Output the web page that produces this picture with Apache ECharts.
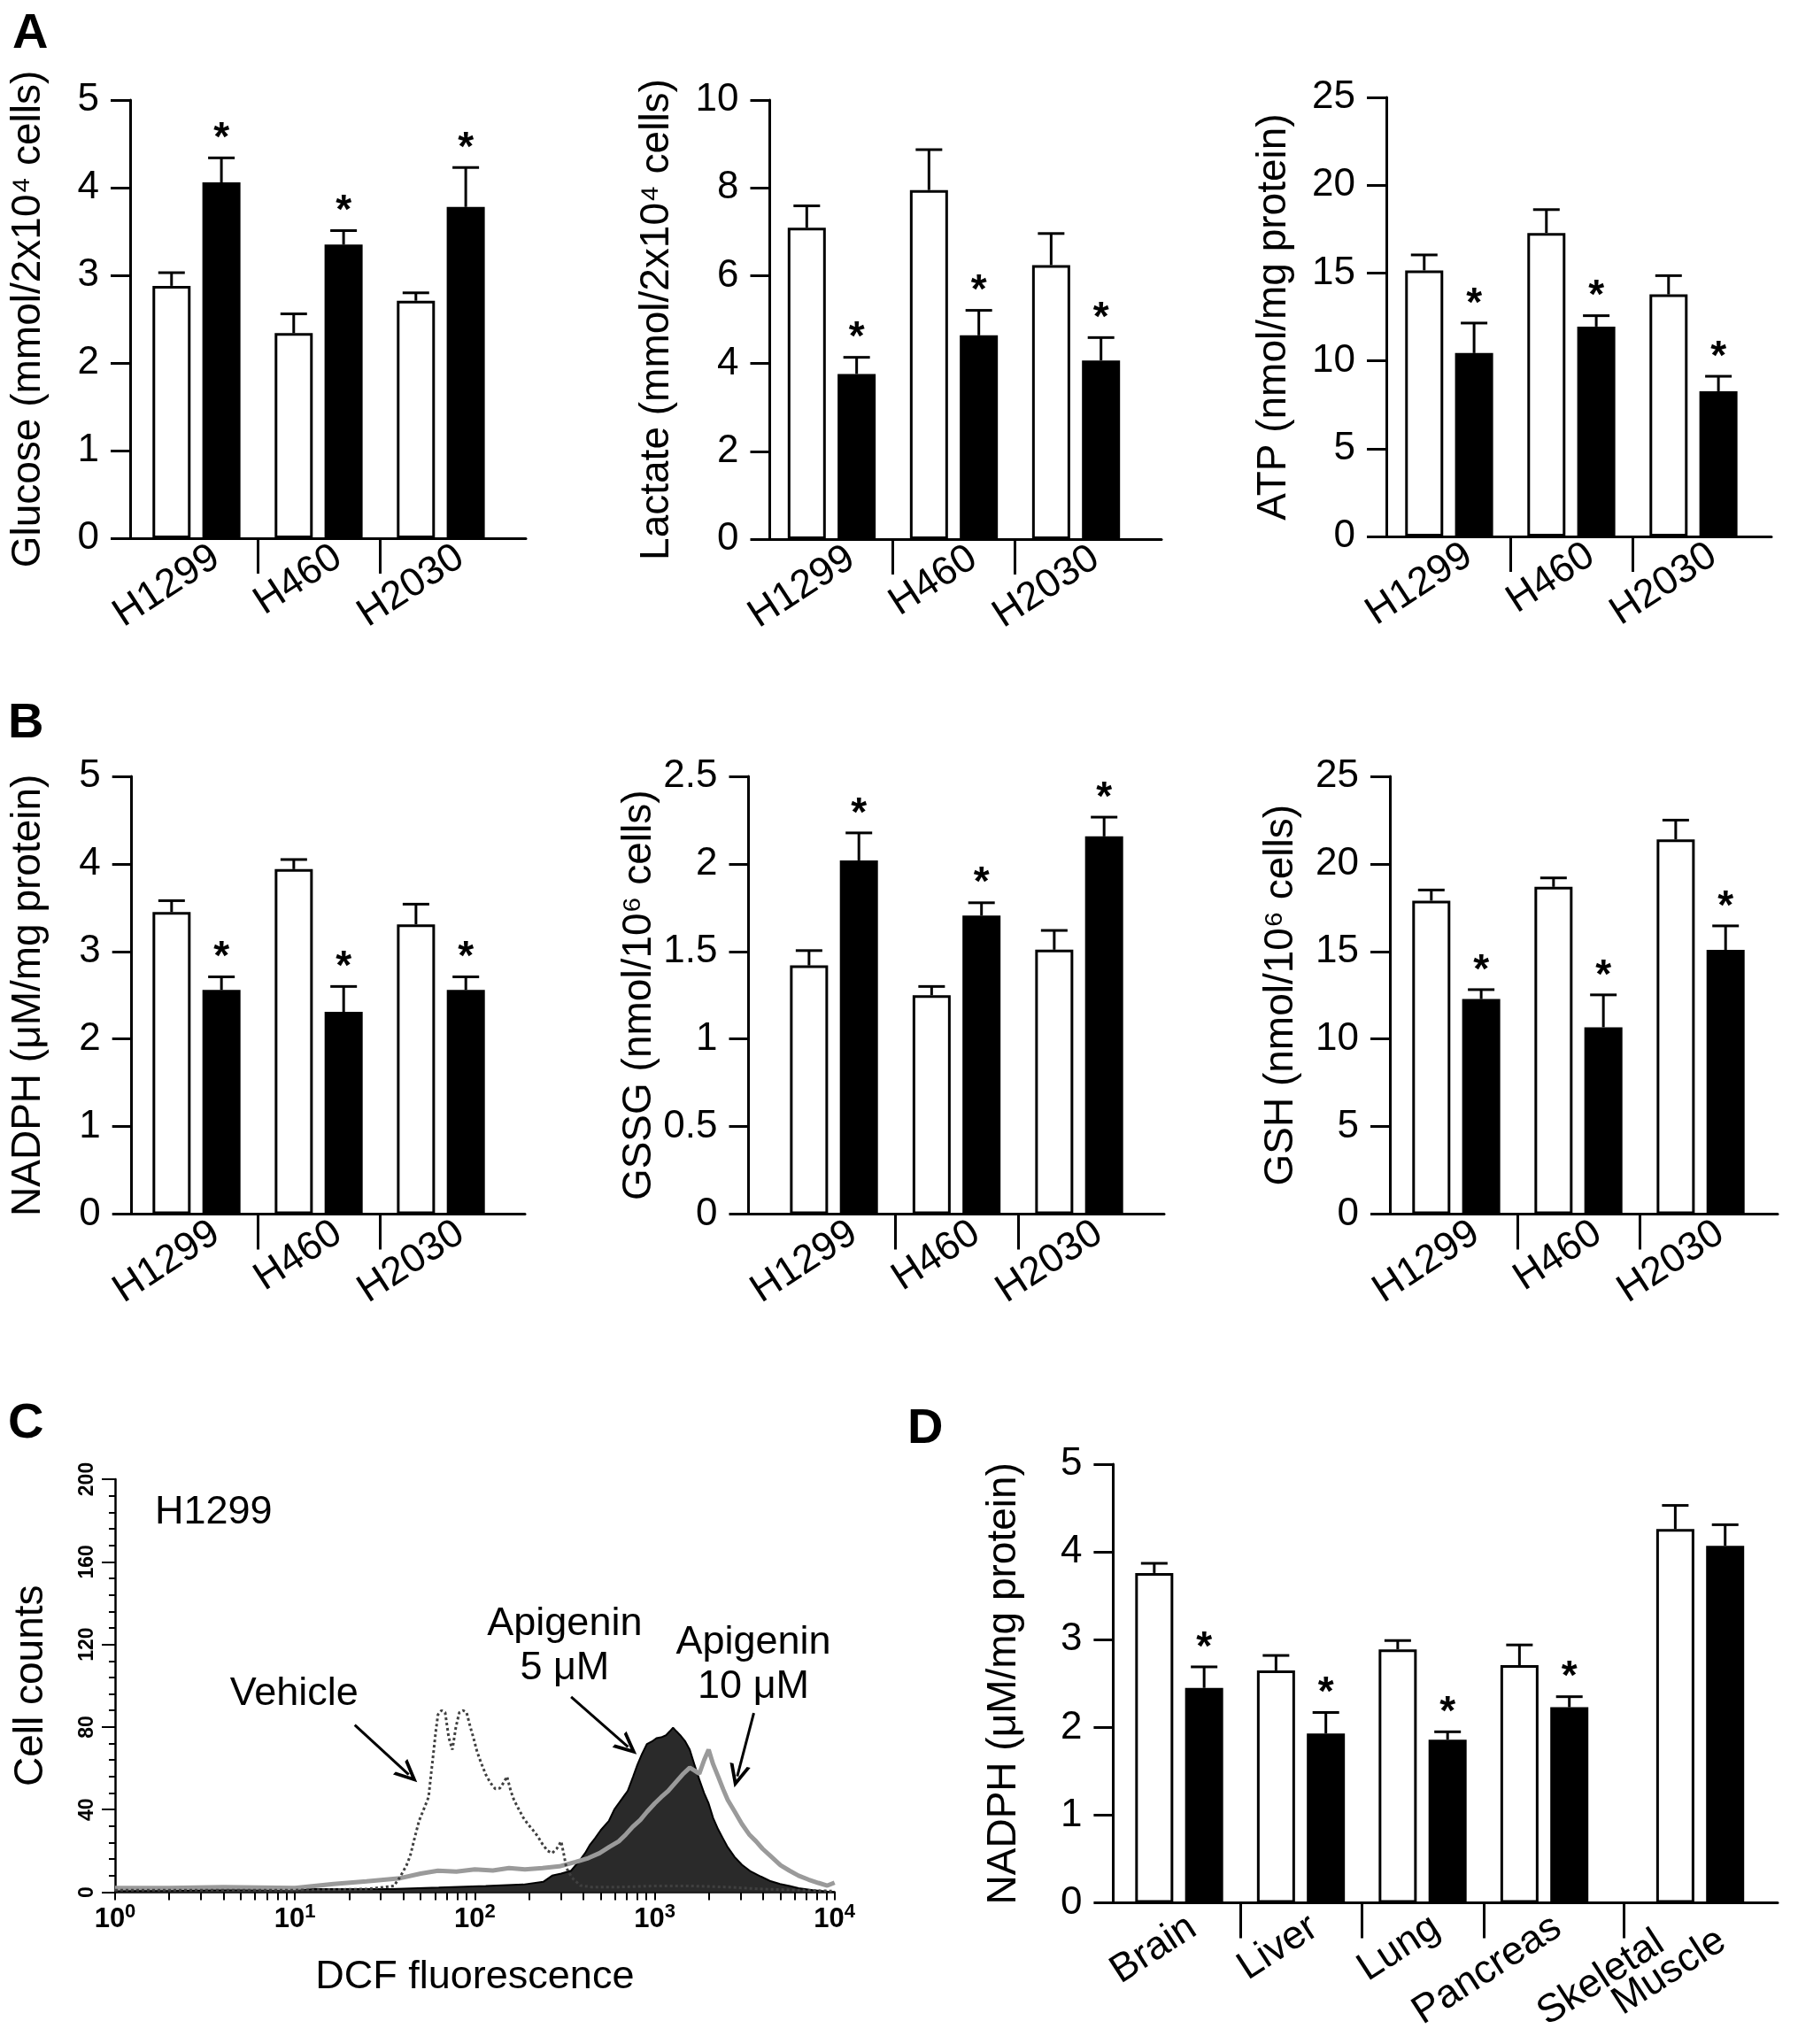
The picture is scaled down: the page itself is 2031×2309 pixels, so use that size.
<!DOCTYPE html>
<html>
<head>
<meta charset="utf-8">
<script src="https://cdn.jsdelivr.net/npm/echarts@6/dist/echarts.min.js"></script>
<style>
  html, body { margin: 0; padding: 0; background: #fff; }
  #chart { width: 2031px; height: 2309px; }
</style>
</head>
<body>
<div id="chart"></div>
<script>
const FONT = 'Liberation Sans, Arial, Helvetica, sans-serif';

// categories
const cellLines = ['H1299', 'H460', 'H2030'];
const cellPos = [0, 1, 2];
const cellSig = [1, 1, 1];
const tissues = ['Brain', 'Liver', 'Lung', 'Pancreas', 'Skeletal Muscle'];
const tissuePos = [0, 1, 2, 3, 4.28];   // skeletal muscle sits a bit further right
const tissueSig = [1, 1, 1, 1, 0];

// A - glucose uptake, lactate, ATP (vehicle = white, apigenin = black)
const glucoseVeh = [2.88, 2.34, 2.71];
const glucoseVehErr = [0.15, 0.22, 0.09];
const glucoseApi = [4.06, 3.35, 3.78];
const glucoseApiErr = [0.28, 0.16, 0.45];

const lactateVeh = [7.09, 7.95, 6.24];
const lactateVehErr = [0.50, 0.92, 0.72];
const lactateApi = [3.76, 4.64, 4.07];
const lactateApiErr = [0.38, 0.57, 0.52];

const atpVeh = [15.15, 17.28, 13.78];
const atpVehErr = [0.88, 1.33, 1.07];
const atpApi = [10.44, 11.95, 8.27];
const atpApiErr = [1.71, 0.62, 0.85];

// B - NADPH, GSSG, GSH
const nadphVeh = [3.45, 3.94, 3.31];
const nadphVehErr = [0.13, 0.11, 0.23];
const nadphApi = [2.56, 2.31, 2.56];
const nadphApiErr = [0.15, 0.29, 0.15];

const gssgVeh = [1.42, 1.25, 1.51];
const gssgVehErr = [0.085, 0.05, 0.11];
const gssgApi = [2.02, 1.705, 2.157];
const gssgApiErr = [0.157, 0.073, 0.11];

const gshVeh = [17.90, 18.69, 21.40];
const gshVehErr = [0.61, 0.51, 1.10];
const gshApi = [12.28, 10.67, 15.09];
const gshApiErr = [0.54, 1.85, 1.37];

// D - NADPH in tissues
const tissueVeh = [3.76, 2.65, 2.89, 2.71, 4.26];
const tissueVehErr = [0.11, 0.17, 0.10, 0.23, 0.27];
const tissueApi = [2.45, 1.93, 1.86, 2.23, 4.07];
const tissueApiErr = [0.24, 0.24, 0.09, 0.12, 0.24];

// C - DCF histograms [fluorescence, cell count]
const vehicleHist = [[1,1],[3.2,1],[10,1],[25,1.5],[35.5,3],[38.5,7.5],[41.7,13],[43.7,17.5],[46.2,26],[49,34.6],[52.5,41],[55.3,46],[57.1,57],[58.9,67.5],[60.7,78],[62.4,86],[65.3,88],[68.4,87],[71.6,75],[75,69],[78.5,80],[82,87],[86.1,88],[90,87],[94.4,80],[98.4,74.6],[103,68],[108,63],[115,57],[122,53],[130,50],[138,50.4],[144.5,53],[151,56],[158.5,49],[165,44.7],[176,40],[186,36.1],[197,33],[209,30.4],[224,27],[238,23.2],[254,20],[269,18.9],[285,21],[302,24.6],[313,18],[323,11.7],[347,7],[386,3.2],[447,2.5],[631,2.5],[1000,3],[1585,3],[2512,2.5],[3981,1.5],[6310,1],[10000,0.5]];
const api5Hist = [[1,0.5],[3.2,1],[10,1.5],[20,1.5],[34,1.5],[63,2.2],[115,3],[186,3.7],[240,5],[269,8],[302,9],[343,10.4],[380,15],[411,19],[437,23],[465,26],[501,30],[557,34.6],[596,40],[631,43],[668,46],[708,49],[759,56],[802,61.8],[851,67],[906,71.8],[966,73],[1023,74.6],[1086,75],[1156,76],[1216,78],[1265,79.7],[1318,78],[1387,76],[1479,73],[1567,69],[1660,62],[1770,54.6],[1884,48],[1995,43],[2113,36],[2254,30.4],[2399,26],[2547,21.8],[2786,17],[3055,13.3],[3428,10],[3890,7.6],[4365,5.5],[4977,4],[5623,3],[6310,1.9],[7586,1],[9120,0.3],[10000,0]];
const api10Hist = [[1,2],[2,2],[4,2.5],[10,2],[16.4,4],[25,5.3],[38.5,6.8],[50,9],[62.4,10.4],[79,10],[100,11],[126,10.5],[155,11.7],[190,11],[238,11.7],[295,12.5],[363,14.6],[427,16.5],[494,18.9],[562,22],[631,24.6],[692,28],[755,31.7],[832,35],[906,38.9],[1000,43],[1086,46],[1189,49],[1303,53],[1429,57],[1567,60.3],[1660,59],[1770,57.4],[1884,64],[1995,69],[2113,62],[2254,56],[2399,50],[2547,44.7],[2786,39],[3055,33],[3350,28],[3664,24.6],[3981,21],[4406,17.5],[5012,13],[5623,10.4],[6310,8],[7161,6.1],[8128,4.5],[9120,3.2],[10000,4.6]];

// C annotations, in data coordinates
const annoText = ['Vehicle', 'Apigenin\n5 μM', 'Apigenin\n10 μM'];
const annoAt = [[9.9, 96], [316, 119], [3540, 110]];
const arrowFrom = [[21.5, 81], [343, 94.6], [3557, 86.8]];
const arrowTo = [[42.9, 57], [711, 70.4], [2878, 56.1]];

// layout
const BAR_W = 43;
const BAR_GAP = 0.31;
const BAR_OFF = (BAR_W + BAR_W * BAR_GAP) / 2;
const CAP = 15;

const barPanels = [
  { cats: cellLines, pos: cellPos, sig: cellSig, veh: glucoseVeh, vehErr: glucoseVehErr, api: glucoseApi, apiErr: glucoseApiErr,
    name: 'Glucose (mmol/2x10⁴ cells)', yMax: 5, step: 1, box: [147, 113, 447, 495], xr: [-0.543, 2.696], nameGap: 92, shift: 0.16, margin: 18, seps: [0.5, 1.5] },
  { cats: cellLines, pos: cellPos, sig: cellSig, veh: lactateVeh, vehErr: lactateVehErr, api: lactateApi, apiErr: lactateApiErr,
    name: 'Lactate (mmol/2x10⁴ cells)', yMax: 10, step: 2, box: [869.5, 113, 442.5, 496], xr: [-0.507, 2.699], nameGap: 104, shift: 0.16, margin: 18, seps: [0.5, 1.5] },
  { cats: cellLines, pos: cellPos, sig: cellSig, veh: atpVeh, vehErr: atpVehErr, api: atpApi, apiErr: atpApiErr,
    name: 'ATP (nmol/mg protein)', yMax: 25, step: 5, box: [1566, 110, 435, 496], xr: [-0.514, 2.638], nameGap: 104, shift: 0.16, margin: 18, seps: [0.5, 1.5] },
  { cats: cellLines, pos: cellPos, sig: cellSig, veh: nadphVeh, vehErr: nadphVehErr, api: nadphApi, apiErr: nadphApiErr,
    name: 'NADPH (μM/mg protein)', yMax: 5, step: 1, box: [148.7, 877, 444.3, 494.5], xr: [-0.531, 2.688], nameGap: 93, shift: 0.16, margin: 18, seps: [0.5, 1.5] },
  { cats: cellLines, pos: cellPos, sig: cellSig, veh: gssgVeh, vehErr: gssgVehErr, api: gssgApi, apiErr: gssgApiErr,
    name: 'GSSG (nmol/10⁶ cells)', yMax: 2.5, step: 0.5, box: [845.5, 877, 469.5, 494.5], xr: [-0.697, 2.693], nameGap: 98, shift: 0.16, margin: 18, seps: [0.5, 1.5] },
  { cats: cellLines, pos: cellPos, sig: cellSig, veh: gshVeh, vehErr: gshVehErr, api: gshApi, apiErr: gshApiErr,
    name: 'GSH (nmol/10⁶ cells)', yMax: 25, step: 5, box: [1570, 877, 438, 494.5], xr: [-0.543, 2.63], nameGap: 100, shift: 0.16, margin: 18, seps: [0.5, 1.5] },
  { cats: tissues, pos: tissuePos, sig: tissueSig, veh: tissueVeh, vehErr: tissueVehErr, api: tissueApi, apiErr: tissueApiErr,
    name: 'NADPH (μM/mg protein)', yMax: 5, step: 1, box: [1257.4, 1654, 750.6, 495.6], xr: [-0.5425, 4.916], nameGap: 100, shift: 0.11, margin: 24, seps: [0.5, 1.5, 2.5, 3.65] }
];

function errorBar(offset) {
  return function (params, api) {
    const x = api.value(0), y = api.value(1), e = api.value(2), s = api.value(3);
    const base = api.coord([x, y]);
    const top = api.coord([x, y + e]);
    const cx = base[0] + offset;
    const line = { stroke: '#000', lineWidth: 3 };
    const children = [
      { type: 'line', shape: { x1: cx, y1: base[1], x2: cx, y2: top[1] }, style: line },
      { type: 'line', shape: { x1: cx - CAP, y1: top[1], x2: cx + CAP, y2: top[1] }, style: line }
    ];
    if (s) {
      children.push({ type: 'text', style: { text: '*', x: cx, y: top[1] - 21, fill: '#000',
        fontSize: 46, fontWeight: 'bold', fontFamily: FONT, align: 'center', verticalAlign: 'middle' } });
    }
    return { type: 'group', children: children };
  };
}

const grid = [], xAxis = [], yAxis = [], series = [];
const black = { color: '#000', width: 3 };

barPanels.forEach(function (p, i) {
  grid.push({ left: p.box[0], top: p.box[1], width: p.box[2], height: p.box[3], outerBoundsMode: 'none' });
  xAxis.push({
    type: 'value', gridIndex: i, min: p.xr[0], max: p.xr[1],
    splitLine: { show: false },
    axisLine: { onZero: false, lineStyle: black },
    axisTick: { customValues: p.seps, length: 40, lineStyle: black },
    axisLabel: {
      customValues: p.pos.map(v => v + p.shift),
      formatter: function (v) {
        const n = p.cats[Math.round(v - p.shift)];
        if (n.indexOf(' ') > 0) {
          const parts = n.split(' ');
          return '{t|' + parts[0] + '}{g| }\n{t|' + parts[1] + '}';
        }
        return n;
      },
      rotate: 33, margin: p.margin, color: '#000', fontSize: 45, fontFamily: FONT,
      rich: {
        t: { fontSize: 45, fontFamily: FONT, color: '#000', lineHeight: 36 },
        g: { width: 60, lineHeight: 36 }
      }
    }
  });
  yAxis.push({
    type: 'value', gridIndex: i, min: 0, max: p.yMax, interval: p.step,
    name: p.name, nameLocation: 'middle', nameRotate: 90, nameGap: p.nameGap,
    nameTextStyle: { fontSize: 46, color: '#000', fontFamily: FONT },
    splitLine: { show: false },
    axisLine: { show: true, onZero: false, lineStyle: black },
    axisTick: { show: true, length: 22, lineStyle: black },
    axisLabel: { fontSize: 44, margin: 35, color: '#000', fontFamily: FONT }
  });
  series.push({
    type: 'bar', xAxisIndex: i, yAxisIndex: i, barWidth: BAR_W, barGap: (BAR_GAP * 100) + '%',
    data: p.pos.map((x, k) => [x, p.veh[k]]),
    itemStyle: { color: '#fff', borderColor: '#000', borderWidth: 3 }
  });
  series.push({
    type: 'bar', xAxisIndex: i, yAxisIndex: i, barWidth: BAR_W, barGap: (BAR_GAP * 100) + '%',
    data: p.pos.map((x, k) => [x, p.api[k]]),
    itemStyle: { color: '#000', borderColor: '#000', borderWidth: 3 }
  });
  series.push({
    type: 'custom', xAxisIndex: i, yAxisIndex: i, z: 3,
    data: p.pos.map((x, k) => [x, p.veh[k], p.vehErr[k], 0]),
    renderItem: errorBar(-BAR_OFF)
  });
  series.push({
    type: 'custom', xAxisIndex: i, yAxisIndex: i, z: 3,
    data: p.pos.map((x, k) => [x, p.api[k], p.apiErr[k], p.sig[k]]),
    renderItem: errorBar(BAR_OFF)
  });
});

// C - flow cytometry histogram
const ci = barPanels.length;
const logTicks = [];
for (let d = 1; d < 10000; d *= 10) {
  for (let m = 1; m < 10; m++) logTicks.push(m * d);
}
logTicks.push(10000);

grid.push({ left: 130, top: 1671, width: 812.7, height: 466.5, outerBoundsMode: 'none' });
xAxis.push({
  type: 'log', logBase: 10, gridIndex: ci, min: 1, max: 10000,
  name: 'DCF fluorescence', nameLocation: 'middle', nameGap: 74,
  nameTextStyle: { fontSize: 45, color: '#000', fontFamily: FONT },
  splitLine: { show: false },
  axisLine: { onZero: false, lineStyle: { color: '#000', width: 2.5 } },
  axisTick: { customValues: logTicks, length: 9, lineStyle: { color: '#000', width: 2 } },
  axisLabel: {
    margin: 11,
    formatter: v => '{b|10}{s|' + Math.round(Math.log10(v)) + '}',
    rich: {
      b: { fontSize: 31, fontWeight: 'bold', fontFamily: FONT, color: '#000', lineHeight: 40 },
      s: { fontSize: 22, fontWeight: 'bold', fontFamily: FONT, color: '#000', lineHeight: 20, verticalAlign: 'top' }
    }
  }
});
yAxis.push({
  type: 'value', gridIndex: ci, min: 0, max: 200, interval: 40,
  name: 'Cell counts', nameLocation: 'middle', nameRotate: 90, nameGap: 72,
  nameTextStyle: { fontSize: 46, color: '#000', fontFamily: FONT },
  splitLine: { show: false },
  axisLine: { show: true, onZero: false, lineStyle: { color: '#000', width: 2.5 } },
  axisTick: { show: true, length: 15, lineStyle: { color: '#000', width: 2 } },
  minorTick: { show: true, splitNumber: 5, length: 7, lineStyle: { color: '#000', width: 2 } },
  axisLabel: { rotate: 90, margin: 20, fontSize: 23, fontWeight: 'bold', color: '#000', fontFamily: FONT }
});

const ARROW = 'path://M10,0 L20,20 L16.5,20 L10,7 L3.5,20 L0,20 Z';

series.push({
  type: 'line', name: 'Apigenin 5 μM', xAxisIndex: ci, yAxisIndex: ci, z: 2,
  data: api5Hist, symbol: 'none',
  lineStyle: { color: '#000', width: 2 },
  areaStyle: { color: '#2a2a2a', opacity: 1 }
});
series.push({
  type: 'line', name: 'Apigenin 10 μM', xAxisIndex: ci, yAxisIndex: ci, z: 3,
  data: api10Hist, symbol: 'none',
  lineStyle: { color: '#9a9a9a', width: 5 }
});
series.push({
  type: 'line', name: 'Vehicle', xAxisIndex: ci, yAxisIndex: ci, z: 4,
  data: vehicleHist, symbol: 'none',
  lineStyle: { color: '#404040', width: 3, type: [3, 3] },
  markPoint: {
    silent: true, symbol: 'circle', symbolSize: 1, itemStyle: { color: 'rgba(0,0,0,0)' },
    label: { show: true, position: 'inside', color: '#000', fontSize: 45, fontFamily: FONT, lineHeight: 50,
      formatter: p => p.name },
    data: annoText.map((t, k) => ({ name: t, coord: annoAt[k] }))
  },
  markLine: {
    silent: true, symbol: ['none', ARROW], symbolSize: [24, 26],
    lineStyle: { color: '#000', width: 3, type: 'solid' },
    label: { show: false },
    data: arrowFrom.map((a, k) => [{ coord: a }, { coord: arrowTo[k] }])
  }
});

const letter = { fontSize: 56, fontWeight: 'bold', color: '#000', fontFamily: FONT };
const option = {
  backgroundColor: '#fff',
  animation: false,
  title: [
    { text: 'A', left: 9, top: 6, textStyle: letter },
    { text: 'B', left: 4, top: 785, textStyle: letter },
    { text: 'C', left: 4, top: 1576, textStyle: letter },
    { text: 'D', left: 1020, top: 1582, textStyle: letter },
    { text: 'H1299', left: 170, top: 1681, textStyle: { fontSize: 45, fontWeight: 'normal', color: '#000', fontFamily: FONT } }
  ],
  grid: grid,
  xAxis: xAxis,
  yAxis: yAxis,
  series: series
};

const chart = echarts.init(document.getElementById('chart'));
chart.setOption(option);
</script>
</body>
</html>
